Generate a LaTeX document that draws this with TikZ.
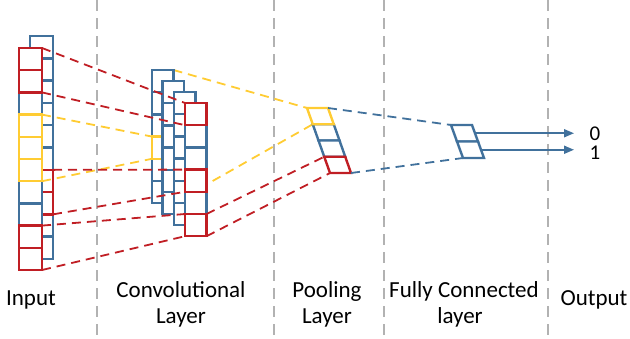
\documentclass[tikz,border=0pt]{standalone}
\usepackage{fontspec}
\setmainfont{Carlito}
\usetikzlibrary{arrows.meta,calc}
\definecolor{cblue}{RGB}{65,113,156}
\definecolor{cred}{RGB}{192,30,36}
\definecolor{cyel}{RGB}{255,204,51}
\definecolor{cgray}{RGB}{178,178,178}
\begin{document}
\begin{tikzpicture}[x=1pt,y=-1pt,
 cell/.style={draw=#1, fill=white, line width=2.4pt, minimum width=23pt, minimum height=22.2pt, inner sep=0pt, outer sep=0pt},
 ccell/.style={cell=#1, minimum width=21.5pt},
 link/.style={draw=#1, line width=1.8pt, dash pattern=on 9pt off 6pt},
 divider/.style={draw=cgray, line width=1.5pt, dash pattern=on 11pt off 7pt},
 lbl/.style={font=\fontsize{23}{27}\selectfont, anchor=base, inner sep=0pt},
 dlbl/.style={font=\fontsize{21}{24}\selectfont, anchor=base, inner sep=0pt},
 pcell/.style={draw=#1, fill=white, line width=2.4pt, line join=miter},
 arr/.style={draw=cblue, line width=1.8pt, -{Triangle[length=10pt,width=8pt]}}
]
\useasboundingbox (0,0) rectangle (630,338);
% dividers
\foreach \x/\n in {97/a,274/b,384/c,548/d}{
  \coordinate (dt\n) at (\x,0);
  \coordinate (db\n) at (\x,338);
  \draw[divider] (dt\n) -- (db\n);
}
% input back column
\foreach \i in {0,...,9} \node[cell=cblue] (ib\i) at (41.5,{36+22.3*\i+11.15}) {};
\foreach \i in {6,7} \node[cell=cred] (ib\i) at (41.5,{36+22.3*\i+11.15}) {};
% input front column
\foreach \i in {0,...,9} \node[cell=cblue] (in\i) at (30.5,{48+22.2*\i+11.1}) {};
\foreach \i/\c in {0/cred,1/cred,3/cyel,4/cyel,5/cyel,8/cred,9/cred}
  \node[cell=\c] (in\i) at (30.5,{48+22.2*\i+11.1}) {};
% pooling coordinates
\foreach \i in {0,...,4}{
  \coordinate (pl\i) at ({307+5.75*\i},{108+16.25*\i});
  \coordinate (pr\i) at ({328+5.75*\i},{108+16.25*\i});
}
% conv column anchors for hidden yellow links
\coordinate (c0tr) at (173.5,70);
\coordinate (c0br) at (173.5,203.2);
\draw[link=cyel] (c0tr) -- (pl0);
\draw[link=cyel] (c0br) -- (pl1);
% conv columns
\foreach \i in {0,...,5}
  \node[ccell=cblue] (c0_\i) at (162.75,{70+22.2*\i+11.1}) {};
\node[ccell=cyel] (c0_3) at (162.75,{70+22.2*3+11.1}) {};
\foreach \k/\L/\T in {1/162.5/81,2/174/92,3/185/103}{
  \foreach \i in {0,...,5}
    \node[ccell=cblue] (c\k_\i) at ({\L+10.75},{\T+22.2*\i+11.1}) {};
}
\foreach \i in {0,3,5} \node[ccell=cred] (c3_\i) at (195.75,{103+22.2*\i+11.1}) {};
% input -> conv links
\draw[link=cred] (in0.north east) -- (c3_0.north west);
\draw[link=cred] (in1.south east) -- (c3_0.south west);
\draw[link=cyel] (in3.north east) -- (c0_3.north west);
\draw[link=cyel] (in5.south east) -- (c0_3.south west);
\draw[link=cred] (ib6.north east) -- (c3_3.north west);
\draw[link=cred] (ib7.south east) -- (c3_3.south west);
\draw[link=cred] (in8.north east) -- (c3_5.north west);
\draw[link=cred] (in9.south east) -- (c3_5.south west);
% conv -> pool links
\draw[link=cred] (c3_5.north east) -- (pl3);
\draw[link=cred] (c3_5.south east) -- (pl4);
% pooling cells
\foreach \i/\j in {1/2,2/3}
  \draw[pcell=cblue] (pl\i) -- (pr\i) -- (pr\j) -- (pl\j) -- cycle;
\draw[pcell=cyel] (pl0) -- (pr0) -- (pr1) -- (pl1) -- cycle;
\draw[pcell=cred] (pl3) -- (pr3) -- (pr4) -- (pl4) -- cycle;
% fully connected
\coordinate (fl0) at (451,125);
\coordinate (fl1) at (457,141.5);
\coordinate (fl2) at (463,158);
\coordinate (fr0) at (472,125);
\coordinate (fr1) at (478,141.5);
\coordinate (fr2) at (484,158);
\draw[link=cblue] (pr0) -- (fl0);
\draw[link=cblue] (pr4) -- (fl2);
\draw[pcell=cblue] (fl0) -- (fr0) -- (fr1) -- (fl1) -- cycle;
\draw[pcell=cblue] (fl1) -- (fr1) -- (fr2) -- (fl2) -- cycle;
% outputs
\coordinate (a0) at ($(fr0)!0.5!(fr1)$);
\coordinate (a1) at ($(fr1)!0.5!(fr2)$);
\coordinate (o0) at (574,133.25);
\coordinate (o1) at (574,149.75);
\draw[arr] (a0) -- (o0);
\draw[arr] (a1) -- (o1);
\node[dlbl] (n0) at (595,140) {0};
\node[dlbl] (n1) at (595,159) {1};
% labels
\node[lbl] (tin) at (31,305) {Input};
\node[lbl] (tconv1) at (181,297) {Convolutional};
\node[lbl] (tconv2) at (181,323) {Layer};
\node[lbl] (tpool1) at (327,297) {Pooling};
\node[lbl] (tpool2) at (327,323) {Layer};
\node[lbl] (tfc1) at (464,297) {Fully Connected};
\node[lbl] (tfc2) at (460,323) {layer};
\node[lbl] (tout) at (594,305) {Output};
\end{tikzpicture}
\end{document}
